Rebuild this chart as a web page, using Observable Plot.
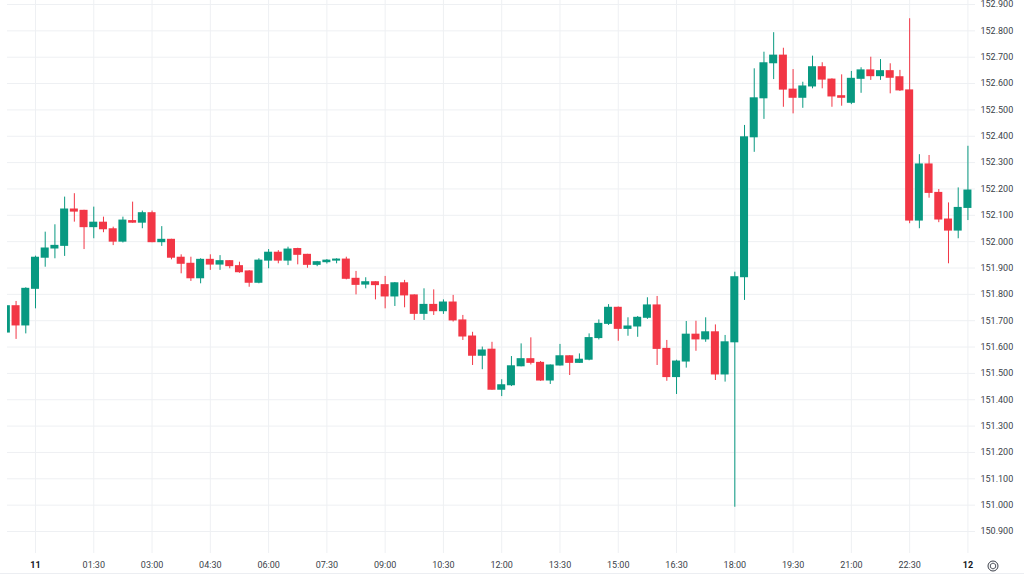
<!DOCTYPE html>
<html><head><meta charset="utf-8">
<script src="https://cdn.jsdelivr.net/npm/d3@7"></script>
<script src="https://cdn.jsdelivr.net/npm/@observablehq/plot@0.6"></script>
<style>
html,body{margin:0;padding:0;background:#fff;overflow:hidden}
#chart{position:relative;width:1024px;height:576px}
#gear{position:absolute;left:987px;top:560px;width:12px;height:12px}
#sep{position:absolute;left:0;top:573px;width:1024px;height:0;border-top:1px solid #eceef2}
</style>
</head><body><div id="chart"></div>
<script>
// 15-minute candles, day 10 23:15 -> day 12 00:00
const times = [
"2024-04-10T23:15Z","2024-04-10T23:30Z","2024-04-10T23:45Z",
"2024-04-11T00:00Z","2024-04-11T00:15Z","2024-04-11T00:30Z","2024-04-11T00:45Z",
"2024-04-11T01:00Z","2024-04-11T01:15Z","2024-04-11T01:30Z","2024-04-11T01:45Z",
"2024-04-11T02:00Z","2024-04-11T02:15Z","2024-04-11T02:30Z","2024-04-11T02:45Z",
"2024-04-11T03:00Z","2024-04-11T03:15Z","2024-04-11T03:30Z","2024-04-11T03:45Z",
"2024-04-11T04:00Z","2024-04-11T04:15Z","2024-04-11T04:30Z","2024-04-11T04:45Z",
"2024-04-11T05:00Z","2024-04-11T05:15Z","2024-04-11T05:30Z","2024-04-11T05:45Z",
"2024-04-11T06:00Z","2024-04-11T06:15Z","2024-04-11T06:30Z","2024-04-11T06:45Z",
"2024-04-11T07:00Z","2024-04-11T07:15Z","2024-04-11T07:30Z","2024-04-11T07:45Z",
"2024-04-11T08:00Z","2024-04-11T08:15Z","2024-04-11T08:30Z","2024-04-11T08:45Z",
"2024-04-11T09:00Z","2024-04-11T09:15Z","2024-04-11T09:30Z","2024-04-11T09:45Z",
"2024-04-11T10:00Z","2024-04-11T10:15Z","2024-04-11T10:30Z","2024-04-11T10:45Z",
"2024-04-11T11:00Z","2024-04-11T11:15Z","2024-04-11T11:30Z","2024-04-11T11:45Z",
"2024-04-11T12:00Z","2024-04-11T12:15Z","2024-04-11T12:30Z","2024-04-11T12:45Z",
"2024-04-11T13:00Z","2024-04-11T13:15Z","2024-04-11T13:30Z","2024-04-11T13:45Z",
"2024-04-11T14:00Z","2024-04-11T14:15Z","2024-04-11T14:30Z","2024-04-11T14:45Z",
"2024-04-11T15:00Z","2024-04-11T15:15Z","2024-04-11T15:30Z","2024-04-11T15:45Z",
"2024-04-11T16:00Z","2024-04-11T16:15Z","2024-04-11T16:30Z","2024-04-11T16:45Z",
"2024-04-11T17:00Z","2024-04-11T17:15Z","2024-04-11T17:30Z","2024-04-11T17:45Z",
"2024-04-11T18:00Z","2024-04-11T18:15Z","2024-04-11T18:30Z","2024-04-11T18:45Z",
"2024-04-11T19:00Z","2024-04-11T19:15Z","2024-04-11T19:30Z","2024-04-11T19:45Z",
"2024-04-11T20:00Z","2024-04-11T20:15Z","2024-04-11T20:30Z","2024-04-11T20:45Z",
"2024-04-11T21:00Z","2024-04-11T21:15Z","2024-04-11T21:30Z","2024-04-11T21:45Z",
"2024-04-11T22:00Z","2024-04-11T22:15Z","2024-04-11T22:30Z","2024-04-11T22:45Z",
"2024-04-11T23:00Z","2024-04-11T23:15Z","2024-04-11T23:30Z","2024-04-11T23:45Z",
"2024-04-12T00:00Z"
];
const open = [
151.655,151.755,151.682,
151.821,151.939,151.974,151.984,
152.122,152.117,152.055,152.072,
152.047,152.000,152.078,152.072,
152.108,151.998,152.007,151.939,
151.916,151.861,151.931,151.913,
151.926,151.907,151.887,151.844,
151.928,151.958,151.928,151.972,
151.950,151.912,151.922,151.928,
151.932,151.859,151.837,151.846,
151.835,151.792,151.842,151.796,
151.726,151.760,151.736,151.769,
151.701,151.640,151.567,151.590,
151.438,151.455,151.527,151.554,
151.540,151.473,151.530,151.565,
151.540,151.552,151.634,151.688,
151.749,151.669,151.678,151.711,
151.758,151.593,151.486,151.545,
151.647,151.629,151.656,151.496,
151.618,151.865,152.396,152.544,
152.677,152.706,152.577,152.546,
152.589,152.662,152.615,152.552,
152.527,152.618,152.650,152.628,
152.647,152.624,152.574,152.080,
152.293,152.185,152.084,152.042,
152.128
];
const high = [
151.758,151.773,151.825,
151.945,152.036,152.064,152.169,
152.182,152.119,152.131,152.093,
152.055,152.093,152.150,152.116,
152.116,152.057,152.009,151.950,
151.941,151.935,151.950,151.947,
151.928,151.922,151.890,151.935,
151.970,151.966,151.979,151.975,
151.952,151.925,151.932,151.935,
151.941,151.887,151.863,151.848,
151.868,151.845,151.853,151.798,
151.821,151.817,151.779,151.796,
151.720,151.656,151.600,151.618,
151.476,151.564,151.612,151.635,
151.545,151.532,151.610,151.567,
151.574,151.650,151.703,151.761,
151.752,151.711,151.716,151.787,
151.792,151.625,151.550,151.697,
151.698,151.711,151.684,151.644,
151.884,152.441,152.656,152.719,
152.793,152.734,152.653,152.605,
152.704,152.679,152.618,152.633,
152.646,152.660,152.700,152.691,
152.675,152.650,152.846,152.330,
152.327,152.198,152.147,152.204,
152.362
];
const low = [
151.648,151.629,151.650,
151.745,151.903,151.935,151.944,
152.074,151.970,152.011,152.034,
151.985,151.995,152.070,152.049,
151.996,151.982,151.931,151.878,
151.849,151.840,151.891,151.891,
151.897,151.880,151.827,151.840,
151.897,151.916,151.909,151.912,
151.899,151.905,151.915,151.916,
151.855,151.798,151.821,151.779,
151.745,151.754,151.749,151.701,
151.701,151.720,151.724,151.695,
151.625,151.530,151.514,151.436,
151.412,151.450,151.525,151.532,
151.470,151.458,151.528,151.492,
151.538,151.548,151.627,151.682,
151.622,151.641,151.637,151.705,
151.530,151.470,151.420,151.520,
151.584,151.618,151.473,151.467,
150.992,151.777,152.339,152.464,
152.615,152.510,152.485,152.506,
152.580,152.580,152.510,152.514,
152.520,152.563,152.612,152.612,
152.561,152.570,152.068,152.049,
152.165,152.072,151.916,152.011,
152.080
];
const close = [
151.755,151.682,151.821,
151.939,151.974,151.984,152.122,
152.114,152.055,152.072,152.047,
152.000,152.080,152.072,152.108,
151.998,152.007,151.939,151.916,
151.861,151.931,151.913,151.926,
151.907,151.884,151.844,151.928,
151.958,151.928,151.970,151.950,
151.912,151.922,151.928,151.932,
151.859,151.836,151.846,151.835,
151.792,151.842,151.796,151.726,
151.760,151.736,151.769,151.701,
151.640,151.567,151.587,151.438,
151.455,151.527,151.554,151.540,
151.473,151.530,151.565,151.540,
151.552,151.634,151.688,151.749,
151.669,151.678,151.711,151.758,
151.593,151.486,151.545,151.647,
151.629,151.656,151.496,151.618,
151.865,152.396,152.544,152.677,
152.706,152.577,152.546,152.589,
152.662,152.615,152.551,152.546,
152.618,152.650,152.628,152.647,
152.622,152.574,152.080,152.293,
152.185,152.084,152.042,152.128,
152.194
];
const yTicks = [150.9,151.0,151.1,151.2,151.3,151.4,151.5,151.6,151.7,151.8,151.9,152.0,152.1,152.2,152.3,152.4,152.5,152.6,152.7,152.8,152.9];
const timeTicks = ["2024-04-11T01:30Z","2024-04-11T03:00Z","2024-04-11T04:30Z","2024-04-11T06:00Z","2024-04-11T07:30Z","2024-04-11T09:00Z","2024-04-11T10:30Z","2024-04-11T12:00Z","2024-04-11T13:30Z","2024-04-11T15:00Z","2024-04-11T16:30Z","2024-04-11T18:00Z","2024-04-11T19:30Z","2024-04-11T21:00Z","2024-04-11T22:30Z"].map(d => new Date(d));
const dayTicks = ["2024-04-11T00:00Z","2024-04-12T00:00Z"].map(d => new Date(d));

const data = times.map((t, i) => ({t: new Date(t), o: open[i], h: high[i], l: low[i], c: close[i]}));
const up = "#089981", down = "#f23645";
const half = 6.2 * 60 * 1000;
const col = d => d.c >= d.o ? up : down;

const chart = Plot.plot({
  width: 1024, height: 576,
  marginLeft: 7, marginRight: 49, marginTop: 0, marginBottom: 23,
  style: {fontFamily: "Roboto, 'DejaVu Sans', sans-serif", fontSize: "9px", color: "#3b3f4a", background: "#fff"},
  x: {type: "utc", label: null, domain: [new Date("2024-04-10T23:16:46Z"), new Date("2024-04-12T00:11:42Z")]},
  y: {label: null, domain: [150.8165, 152.9152]},
  marks: [
    Plot.gridY(yTicks, {stroke: "#eef0f3", strokeOpacity: 1}),
    Plot.gridX(timeTicks.concat(dayTicks), {stroke: "#eef0f3", strokeOpacity: 1}),
    Plot.ruleX(data, {x: "t", y1: "l", y2: "h", stroke: col, strokeWidth: 1, clip: true}),
    Plot.rect(data, {x1: d => new Date(+d.t - half), x2: d => new Date(+d.t + half), y1: "o", y2: "c", fill: col, insetTop: -0.5, insetBottom: -0.5, clip: true}),
    Plot.axisY(yTicks, {anchor: "right", label: null, tickSize: 0, tickPadding: 5, textAnchor: "start", tickFormat: d => d.toFixed(3), fontSize: 9, fill: "#3b3f4a"}),
    Plot.axisX(timeTicks, {anchor: "bottom", label: null, tickSize: 0, tickPadding: 8, tickFormat: d3.utcFormat("%H:%M"), fontSize: 9, fill: "#3b3f4a"}),
    Plot.axisX(dayTicks, {anchor: "bottom", label: null, tickSize: 0, tickPadding: 8, tickFormat: d3.utcFormat("%-d"), fontSize: 9, fontWeight: "bold", fill: "#131722"})
  ]
});
document.getElementById("chart").appendChild(chart);
document.getElementById("chart").insertAdjacentHTML("beforeend",
 '<div id="sep"></div><svg id="gear" viewBox="0 0 12 12"><circle cx="6" cy="6" r="5" fill="none" stroke="#3b3f4a" stroke-width="1"/><polygon points="6,3 8.6,4.5 8.6,7.5 6,9 3.4,7.5 3.4,4.5" fill="none" stroke="#3b3f4a" stroke-width="0.9"/></svg>');
</script>
</body></html>
